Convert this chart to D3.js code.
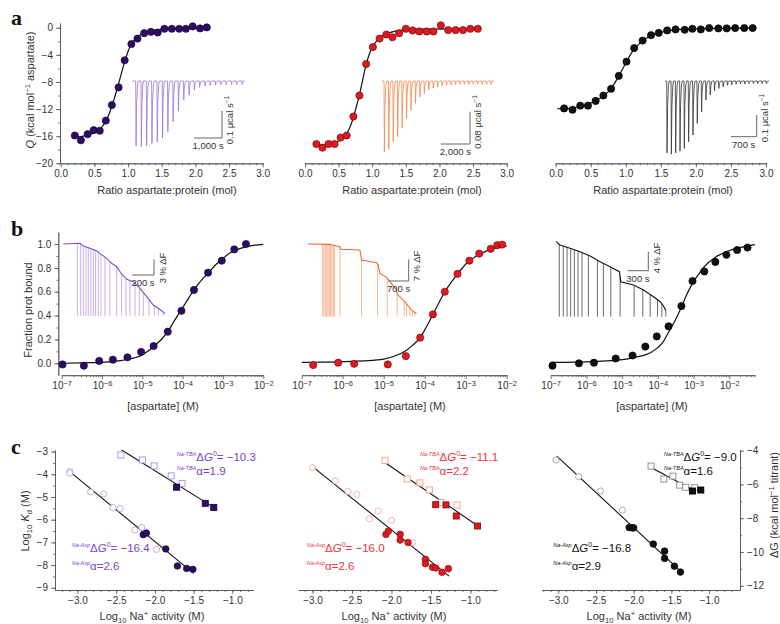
<!DOCTYPE html>
<html><head><meta charset="utf-8">
<script src="https://cdn.jsdelivr.net/npm/d3@7"></script>
<style>body{margin:0;background:#fff;}</style>
</head><body>
<script>
// ================= DATA =================
// Row a: ITC isotherms (molar ratio, Q kcal/mol)
const a1Ratio = [0.21,0.30,0.40,0.49,0.58,0.67,0.76,0.86,0.95,1.05,1.14,1.24,1.34,1.44,1.54,1.65,1.76,1.86,1.96,2.07,2.17];
const a1Q     = [-15.9,-16.6,-15.7,-15.1,-15.2,-13.7,-11.4,-8.8,-4.8,-2.4,-1.6,-0.8,-0.6,-0.7,-0.15,-0.15,-0.15,-0.15,0.2,-0.1,0.05];
const a1FitRatio = [0.2,0.3,0.4,0.5,0.6,0.67,0.72,0.76,0.8,0.85,0.9,0.95,1.0,1.05,1.1,1.2,1.3,1.5,1.8,2.2];
const a1FitQ     = [-16.1,-16.05,-15.85,-15.5,-14.8,-13.8,-12.7,-11.5,-10.3,-8.6,-6.8,-5.0,-3.5,-2.4,-1.7,-0.95,-0.55,-0.22,-0.08,-0.02];
const a1Peaks = [0.243,0.246,0.243,0.234,0.228,0.213,0.19,0.153,0.113,0.071,0.053,0.034,0.024,0.019,0.016,0.015,0.014,0.014,0.013,0.013,0.013];

const a2Ratio = [0.17,0.26,0.35,0.44,0.53,0.62,0.72,0.81,0.91,1.01,1.11,1.21,1.30,1.40,1.50,1.60,1.70,1.81,1.91,2.02,2.13,2.24,2.35,2.46,2.57];
const a2Q     = [-17.15,-17.7,-17.15,-17.15,-16.2,-15.9,-13.1,-10.0,-5.35,-2.85,-1.6,-1.0,-1.4,-0.8,-0.15,-0.4,-0.55,-0.55,-0.55,0.35,-0.35,-0.35,-0.35,-0.15,-0.15];
const a2FitRatio = [0.17,0.25,0.35,0.45,0.55,0.62,0.68,0.72,0.77,0.81,0.86,0.91,0.96,1.01,1.06,1.11,1.2,1.3,1.5,1.8,2.2,2.6];
const a2FitQ     = [-17.1,-17.35,-17.3,-17.0,-16.4,-15.6,-14.4,-13.2,-11.4,-9.9,-7.6,-5.4,-3.8,-2.7,-2.0,-1.5,-0.95,-0.6,-0.3,-0.2,-0.15,-0.12];
const a2Peaks = [0.175,0.169,0.150,0.138,0.116,0.092,0.072,0.055,0.039,0.031,0.022,0.018,0.015,0.012,0.011,0.010,0.009,0.008,0.008,0.008,0.008,0.008,0.008,0.008,0.008];

const a3Ratio = [0.12,0.24,0.35,0.46,0.57,0.68,0.79,0.90,1.01,1.12,1.24,1.36,1.47,1.59,1.71,1.84,1.95,2.07,2.19,2.32,2.44,2.56,2.69,2.81];
const a3Q     = [-11.9,-12.1,-11.5,-11.5,-10.8,-10.0,-9.0,-7.1,-5.0,-3.0,-1.9,-1.1,-0.75,-0.4,-0.25,-0.3,-0.15,-0.25,-0.05,-0.1,-0.1,-0.05,-0.05,-0.05];
const a3FitRatio = [0.02,0.2,0.35,0.5,0.6,0.7,0.79,0.9,1.0,1.1,1.2,1.3,1.4,1.55,1.7,2.0,2.4,2.85];
const a3FitQ     = [-11.95,-11.9,-11.6,-11.1,-10.6,-9.9,-9.0,-7.1,-5.2,-3.4,-2.3,-1.5,-1.0,-0.55,-0.3,-0.15,-0.08,-0.05];
const a3Peaks = [0.331,0.337,0.331,0.323,0.311,0.280,0.249,0.195,0.142,0.088,0.065,0.045,0.034,0.026,0.020,0.017,0.015,0.014,0.014,0.012,0.012,0.012,0.012,0.012];

// Row b: fluorescence titrations (log10 [aspartate] M, fraction bound)
const b1LogC = [-6.98,-6.45,-6.07,-5.73,-5.37,-5.03,-4.72,-4.37,-4.03,-3.72,-3.37,-3.03,-2.72,-2.43];
const b1Frac = [-0.01,-0.02,0.02,0.03,0.05,0.095,0.145,0.265,0.44,0.615,0.76,0.86,0.955,1.0];
const b1FitLogC = [-7,-6.5,-6,-5.5,-5.2,-5,-4.72,-4.5,-4.37,-4.2,-4.03,-3.9,-3.72,-3.5,-3.37,-3.2,-3.03,-2.85,-2.72,-2.5,-2.2,-2];
const b1FitFrac = [0.0,0.004,0.008,0.025,0.045,0.07,0.14,0.21,0.265,0.36,0.45,0.52,0.615,0.71,0.755,0.82,0.87,0.92,0.945,0.97,0.99,0.997];
const b1TraceT = [0,152,182,242,303,333,394,439,485,530,576,636,697,758,818,864,924];
const b1TraceF = [0,0.13,-0.38,-0.83,-1.34,-1.79,-2.74,-3.70,-4.34,-5.74,-6.77,-7.21,-8.49,-10.09,-11.68,-12.32,-13.28];
const b1InjT = [127,158,182,206,227,251,273,294,318,342,379,424,485,530,570,606,652,691,727,779,827,864,909];

const b2LogC = [-6.72,-6.11,-5.72,-4.90,-4.46,-4.11,-3.80,-3.51,-3.20,-2.91,-2.67,-2.39,-2.23,-2.11];
const b2Frac = [-0.015,0.005,-0.005,-0.01,0.06,0.215,0.41,0.60,0.75,0.86,0.92,0.96,0.99,0.995];
const b2FitLogC = [-7,-6.5,-6.11,-5.5,-5,-4.7,-4.46,-4.3,-4.11,-3.95,-3.8,-3.65,-3.51,-3.35,-3.2,-2.91,-2.67,-2.39,-2.11,-2];
const b2FitFrac = [0.008,0.009,0.011,0.02,0.035,0.065,0.106,0.15,0.215,0.31,0.41,0.51,0.60,0.68,0.75,0.86,0.913,0.955,0.978,0.983];
const b2TraceT = [0,746,861,1091,1114,1780,1837,2354,2411,2468,2698,3042,3065,3329,3559,3731];
const b2TraceF = [0,-0.11,-0.43,-0.86,-1.72,-1.94,-5.17,-6.03,-6.78,-9.48,-10.77,-14.86,-16.16,-18.63,-21.33,-22.40];
const b2InjT = [494,539,585,631,677,723,769,815,861,907,1091,1837,2388,2721,3065,3306,3387,3501,3593,3674];

const b3LogC = [-6.95,-6.21,-5.79,-5.18,-4.71,-4.35,-4.03,-3.70,-3.34,-3.03,-2.70,-2.39,-2.08,-1.78,-1.49];
const b3Frac = [-0.02,0.0,0.005,0.04,0.065,0.14,0.225,0.31,0.48,0.69,0.77,0.85,0.91,0.95,0.97];
const b3FitLogC = [-7,-6,-5,-4.5,-4.35,-4.03,-3.85,-3.7,-3.5,-3.34,-3.2,-3.03,-2.85,-2.7,-2.39,-2.08,-1.78,-1.49,-1.28];
const b3FitFrac = [0.008,0.012,0.03,0.06,0.07,0.125,0.18,0.26,0.37,0.47,0.57,0.67,0.75,0.81,0.89,0.935,0.965,0.985,0.995];
const b3TraceT = [0,58,203,348,494,639,784,919,939,1123,1268,1413,1510,1558,1592];
const b3TraceF = [0,-0.70,-1.40,-2.11,-3.02,-4.21,-5.26,-6.32,-8.42,-9.12,-10.18,-11.58,-12.63,-13.54,-14.53];
const b3InjT = [48,106,160,213,266,319,377,469,600,687,794,929,1132,1258,1365,1471,1534,1592];

// Row c: log10 Kd vs log10 Na+ activity
const c1AspOpenX = [-3.10,-3.10,-2.83,-2.66,-2.54,-2.45,-2.26,-2.17,-1.98];
const c1AspOpenY = [-3.88,-3.95,-4.78,-4.87,-5.47,-5.51,-6.46,-6.34,-7.31];
const c1AspFillX = [-2.15,-2.11,-1.86,-1.71,-1.59,-1.51];
const c1AspFillY = [-6.66,-6.59,-7.29,-8.04,-8.15,-8.19];
const c1AspLineX = [-3.10,-1.50], c1AspLineY = [-3.88,-8.37];
const c1TbaOpenX = [-2.44,-2.16,-2.01,-1.79,-1.65];
const c1TbaOpenY = [-3.15,-3.37,-3.63,-4.07,-4.40];
const c1TbaFillX = [-1.72,-1.35,-1.24];
const c1TbaFillY = [-4.57,-5.28,-5.46];
const c1TbaLineX = [-2.43,-1.24], c1TbaLineY = [-2.93,-5.46];

const c2AspOpenX = [-3.00,-2.71,-2.55,-2.44,-2.28,-2.17,-2.00,-1.73];
const c2AspOpenY = [-3.71,-4.29,-4.76,-4.88,-5.96,-5.62,-6.03,-7.01];
const c2AspFillX = [-2.07,-2.04,-1.89,-1.89,-1.79,-1.57,-1.57,-1.48,-1.44,-1.36,-1.28];
const c2AspFillY = [-6.65,-6.50,-6.65,-6.90,-7.01,-7.75,-7.94,-8.10,-8.13,-8.32,-8.16];
const c2AspLineX = [-3.0,-1.27], c2AspLineY = [-3.66,-8.49];
const c2TbaOpenX = [-2.08,-1.80,-1.64,-1.52,-1.37,-1.17];
const c2TbaOpenY = [-3.40,-4.21,-4.38,-4.69,-5.24,-5.35];
const c2TbaFillX = [-1.44,-1.31,-1.18,-0.91];
const c2TbaFillY = [-5.34,-5.35,-5.84,-6.28];
const c2TbaLineX = [-2.08,-0.89], c2TbaLineY = [-3.49,-6.31];

// c3 values in ΔG (kcal/mol titrant), right axis
const c3AspOpenX = [-3.03,-2.73,-2.44,-2.15];
const c3AspOpenY = [-4.55,-5.54,-6.39,-7.52];
const c3AspFillX = [-2.06,-2.02,-2.00,-1.74,-1.59,-1.59,-1.46,-1.38];
const c3AspFillY = [-8.55,-8.57,-8.57,-9.53,-9.95,-10.38,-10.84,-11.19];
const c3AspLineX = [-3.02,-1.35], c3AspLineY = [-4.32,-11.25];
const c3TbaOpenX = [-1.77,-1.60,-1.48,-1.39,-1.31,-1.19];
const c3TbaOpenY = [-4.91,-5.68,-5.51,-6.04,-6.17,-6.19];
const c3TbaFillX = [-1.22,-1.11];
const c3TbaFillY = [-6.39,-6.33];
const c3TbaLineX = [-1.77,-1.21], c3TbaLineY = [-4.99,-6.33];

const annTba = [["\u221210.3","1.9"],["\u221211.1","2.2"],["\u22129.0","1.6"]];
const annAsp = [["\u221216.4","2.6"],["\u221216.0","2.6"],["\u221216.8","2.9"]];

// ================= DRAWING =================
const FONT = "'Liberation Sans', Arial, Helvetica, sans-serif";
const svg = d3.select("body").append("svg").attr("width",780).attr("height",624)
  .style("font-family",FONT);
svg.append("rect").attr("width",780).attr("height",624).attr("fill","#fff");
const AX = "#555";

function axis(gen, tx, ty, values, size, fmt){
  const g = svg.append("g").attr("transform",`translate(${tx},${ty})`)
    .attr("font-family",FONT).attr("font-size",11);
  g.call(gen.tickValues(values).tickSize(size).tickSizeOuter(0).tickPadding(3).tickFormat(fmt));
  g.selectAll("path,line").attr("stroke",AX).attr("stroke-width",0.8);
  g.selectAll("text").attr("fill","#333");
  return g;
}
const zip = (a,b)=>a.map((v,i)=>[v,b[i]]);
function dots(data, xs, ys, r, fill, stroke){
  svg.append("g").selectAll("circle").data(data).join("circle")
    .attr("cx",d=>xs(d[0])).attr("cy",d=>ys(d[1])).attr("r",r)
    .attr("fill",fill).attr("stroke",stroke).attr("stroke-width",0.7);
}
function squares(data, xs, ys, s, fill, stroke){
  svg.append("g").selectAll("rect").data(data).join("rect")
    .attr("x",d=>xs(d[0])-s/2).attr("y",d=>ys(d[1])-s/2).attr("width",s).attr("height",s)
    .attr("fill",fill).attr("stroke",stroke).attr("stroke-width",0.9);
}
function curve(data, xs, ys, w, smooth){
  const l = d3.line().x(d=>xs(d[0])).y(d=>ys(d[1]));
  if (smooth) l.curve(d3.curveMonotoneX);
  svg.append("path").attr("d",l(data)).attr("fill","none").attr("stroke","#111").attr("stroke-width",w);
}
function label(x,y,rot,parts,size){
  const t = svg.append("text").attr("transform",`translate(${x},${y}) rotate(${rot})`)
    .attr("text-anchor","middle").attr("fill","#333").style("font-size",size+"px");
  parts.forEach(p=>{
    const s = t.append("tspan").text(p.t);
    if (p.i) s.style("font-style","italic");
    if (p.sup) s.attr("dy",-size*0.4).style("font-size",(size*0.7)+"px");
    if (p.sub) s.attr("dy",size*0.3).style("font-size",(size*0.7)+"px");
    if (p.back) s.attr("dy",p.back);
  });
  return t;
}
function panelLetter(x,y,txt){
  svg.append("text").attr("x",x).attr("y",y).text(txt)
    .style("font-family","'Liberation Serif','Times New Roman',serif")
    .style("font-weight","bold").style("font-size","22px").attr("fill","#111");
}

// ---------- Row a ----------
const aY = d3.scaleLinear().domain([-20,0.7]).range([163.3,23]);
const aX = [d3.scaleLinear().domain([0,3]).range([60.7,262.7]),
            d3.scaleLinear().domain([0,3]).range([305,506.7]),
            d3.scaleLinear().domain([0,3]).range([555.7,766])];
const aMajor = d3.range(0,3.01,0.5), aMinor = d3.range(0,3.01,0.1);
aX.forEach(xs=>{
  axis(d3.axisBottom(xs), 0, 163.3, aMinor, 2, "");
  axis(d3.axisBottom(xs), 0, 163.3, aMajor, 4, d3.format(".1f"));
});
axis(d3.axisLeft(aY), 60, 0, d3.range(-20,0.1,2), 2, "");
axis(d3.axisLeft(aY), 60, 0, d3.range(-20,0.1,4), 4, d3.format("d"));
label(34,90,-90,[{t:"Q",i:true},{t:" (kcal mol"},{t:"\u22121",sup:true},{t:" aspartate)",back:4.4}],11);
[167,412,663].forEach(cx=>label(cx,194,0,[{t:"Ratio aspartate:protein (mol)"}],11));

function itcInset(depths, xFirst, xLast, xStart, xEnd, y0, pxPerUnit, color){
  const xs = d3.scaleLinear().domain([0, depths.length-1]).range([xFirst, xLast]);
  const ys = d3.scaleLinear().domain([0, 1]).range([y0, y0 + pxPerUnit]);
  const p = d3.path();
  p.moveTo(xStart, y0);
  depths.forEach((d,i)=>{
    const x = xs(i);
    p.lineTo(x, y0); p.lineTo(x+0.35, ys(d)); p.lineTo(x+0.9, ys(d*0.35));
    p.lineTo(x+1.8, ys(d*0.06)); p.lineTo(x+2.6, y0);
  });
  p.lineTo(xEnd, y0);
  svg.append("path").attr("d",p.toString()).attr("fill","none").attr("stroke",color).attr("stroke-width",0.8);
}
itcInset(a1Peaks,135.7,241.7,132.7,243,81,267,"#9b74d8");
itcInset(a2Peaks,384,490.7,381.7,491.7,81,404,"#f5864f");
itcInset(a3Peaks,666.7,766,665.3,769,81,217,"#333");

function scaleBar(cx, cy, lenX, lenY, txtX, txtY, rotX, rotY, size){
  svg.append("path").attr("d",`M${cx-lenX},${cy}H${cx}V${cy-lenY}`)
    .attr("fill","none").attr("stroke",AX).attr("stroke-width",0.9);
  svg.append("text").attr("x",cx-lenX/2).attr("y",cy+size+1.5).attr("text-anchor","middle")
    .attr("fill","#333").style("font-size",size+"px").text(txtX);
  const t = svg.append("text").attr("transform",`translate(${rotX},${rotY}) rotate(-90)`)
    .attr("text-anchor","middle").attr("fill","#333").style("font-size",size+"px");
  return t;
}
function ucal(t, v, size){
  t.append("tspan").text(v+" \u00b5cal s");
  t.append("tspan").text("\u22121").attr("dy",-size*0.4).style("font-size",(size*0.7)+"px");
}
ucal(scaleBar(222,138,27.7,27,"1,000 s",0,233,120,9.5),"0.1",9.5);
ucal(scaleBar(470,144,29.3,32.3,"2,000 s",0,481,122,9.5),"0.08",9.5);
ucal(scaleBar(756.7,136.7,26,21.7,"700 s",0,768,118,9.5),"0.1",9.5);

curve(zip(a1FitRatio,a1FitQ), aX[0], aY, 1.2, true);
curve(zip(a2FitRatio,a2FitQ), aX[1], aY, 1.2, true);
curve(zip(a3FitRatio,a3FitQ), aX[2], aY, 1.2, true);
dots(zip(a1Ratio,a1Q), aX[0], aY, 3.6, "#2e0c62", "#1a0640");
dots(zip(a2Ratio,a2Q), aX[1], aY, 3.6, "#dc1a22", "#7a0a0a");
dots(zip(a3Ratio,a3Q), aX[2], aY, 3.6, "#111", "#000");
panelLetter(11,25,"a");

// ---------- Row b ----------
const bY = d3.scaleLinear().domain([-0.1,1.1]).range([375.2,232.1]);
const bX = [d3.scaleLog().domain([1e-7,1e-2]).range([61.7,263.3]),
            d3.scaleLog().domain([1e-7,1e-2]).range([301.7,506.7]),
            d3.scaleLog().domain([1e-7,Math.pow(10,-1.28)]).range([550.7,755])];
const pow10 = v=>Math.pow(10,v);
bX.forEach(xs=>{
  const [lo,hi] = xs.domain();
  const minor = [], major = [];
  for (let e=-7;e<=-1;e++) for (let m=1;m<=9;m++){
    const v = m*Math.pow(10,e);
    if (v>=lo*0.999 && v<=hi*1.001){ if(m===1) major.push(v); else minor.push(v); }
  }
  axis(d3.axisBottom(xs), 0, 375.2, minor, 2, "");
  const g = axis(d3.axisBottom(xs), 0, 375.2, major, 4, "");
  g.selectAll(".tick text").each(function(d){
    const e = Math.round(Math.log10(d));
    const t = d3.select(this);
    t.append("tspan").text("10");
    t.append("tspan").text("\u2212"+Math.abs(e)).attr("dy","-0.5em").style("font-size","7.5px");
  });
});
axis(d3.axisLeft(bY), 58.3, 0, d3.range(0,1.01,0.1), 2, "");
axis(d3.axisLeft(bY), 58.3, 0, d3.range(0,1.01,0.2), 4, d3.format(".1f"));
label(32,310,-90,[{t:"Fraction prot bound"}],11);
[163,410,652].forEach(cx=>label(cx,410,0,[{t:"[aspartate] (M)"}],11));

function fluorInset(tArr, fArr, injT, fBottom, x0, pxPerS, y0, pxPerPct, traceColor, lineColor){
  const xs = d3.scaleLinear().domain([0,1]).range([x0, x0+pxPerS]);
  const ys = d3.scaleLinear().domain([0,-1]).range([y0, y0+pxPerPct]);
  const trace = d3.scaleLinear().domain(tArr).range(fArr);
  svg.append("g").selectAll("line").data(injT).join("line")
    .attr("x1",t=>xs(t)).attr("x2",t=>xs(t))
    .attr("y1",t=>ys(trace(t))).attr("y2",ys(fBottom))
    .attr("stroke",lineColor).attr("stroke-width",0.8);
  svg.append("path").attr("d",d3.line().x(d=>xs(d[0])).y(d=>ys(d[1]))(zip(tArr,fArr)))
    .attr("fill","none").attr("stroke",traceColor).attr("stroke-width",1.1);
}
fluorInset(b1TraceT,b1TraceF,b1InjT,-13.8,63.3,0.11,244,5.22,"#7b4fc9","#b89ce6");
fluorInset(b2TraceT,b2TraceF,b2InjT,-23.45,308.3,0.029,244,3.1,"#f06a30","#f8a67f");
fluorInset(b3TraceT,b3TraceF,b3InjT,-15.8,556,0.069,241.7,4.75,"#111","#444");

function dF(t, v){
  t.append("tspan").text(v+" % \u0394F");
}
dF(scaleBar(154,275,22,15.7,"200 s",0,166,268,9.5),"3");
dF(scaleBar(408.7,281,20.3,21.7,"700 s",0,420,266,9.5),"7");
dF(scaleBar(648.3,270.7,20.7,19,"300 s",0,660,258,9.5),"4");

curve(zip(b1FitLogC.map(pow10),b1FitFrac), bX[0], bY, 1.2, true);
curve(zip(b2FitLogC.map(pow10),b2FitFrac), bX[1], bY, 1.2, true);
curve(zip(b3FitLogC.map(pow10),b3FitFrac), bX[2], bY, 1.2, true);
dots(zip(b1LogC.map(pow10),b1Frac), bX[0], bY, 3.6, "#2e0c62", "#1a0640");
dots(zip(b2LogC.map(pow10),b2Frac), bX[1], bY, 3.6, "#dc1a22", "#7a0a0a");
dots(zip(b3LogC.map(pow10),b3Frac), bX[2], bY, 3.6, "#111", "#000");
panelLetter(11,236,"b");

// ---------- Row c ----------
const cY = d3.scaleLinear().domain([-9.1,-2.93]).range([590,450]);
const c3Y = d3.scaleLinear().domain([-12.25,-3.96]).range([590,450]);
const cX = [d3.scaleLinear().domain([-3.29,-0.73]).range([55,253.3]),
            d3.scaleLinear().domain([-3.18,-0.66]).range([298.3,497.3]),
            d3.scaleLinear().domain([-3.22,-0.59]).range([541.7,740])];
const cMajor = d3.range(-3,-0.99,0.5);
cX.forEach(xs=>{
  const [lo,hi] = xs.domain();
  const minor = d3.range(-3.2,-0.6,0.1).filter(v=>v>=lo && v<=hi);
  axis(d3.axisBottom(xs), 0, 590, minor, 2, "");
  axis(d3.axisBottom(xs), 0, 590, cMajor, 4, d3.format(".1f"));
});
axis(d3.axisLeft(cY), 55, 0, d3.range(-9,-2.99,0.5), 2, "");
axis(d3.axisLeft(cY), 55, 0, d3.range(-9,-2.99,1), 4, d3.format("d"));
axis(d3.axisRight(c3Y), 740, 0, d3.range(-12,-3.99,1), 2, "");
axis(d3.axisRight(c3Y), 740, 0, d3.range(-12,-3.99,2), 4, d3.format("d"));
label(29,521,-90,[{t:"Log"},{t:"10",sub:true},{t:" ",back:-3.3},{t:"K",i:true},{t:"d",sub:true},{t:" (M)",back:-3.3}],11);
label(778,505,-90,[{t:"\u0394G (kcal mol"},{t:"\u22121",sup:true},{t:" titrant)",back:4.4}],11);
[152,394,639].forEach(cx=>label(cx,620,0,[{t:"Log"},{t:"10",sub:true},{t:" Na",back:-3.3},{t:"+",sup:true},{t:" activity (M)",back:4.4}],11));

const cPanels = [
  {xs:cX[0], ys:cY, open:"#a58fdc", fill:"#2e0c62", fstroke:"#1a0640",
   ao:[c1AspOpenX,c1AspOpenY], af:[c1AspFillX,c1AspFillY], al:[c1AspLineX,c1AspLineY],
   to:[c1TbaOpenX,c1TbaOpenY], tf:[c1TbaFillX,c1TbaFillY], tl:[c1TbaLineX,c1TbaLineY]},
  {xs:cX[1], ys:cY, open:"#f49a88", fill:"#dc1a22", fstroke:"#8a1010",
   ao:[c2AspOpenX,c2AspOpenY], af:[c2AspFillX,c2AspFillY], al:[c2AspLineX,c2AspLineY],
   to:[c2TbaOpenX,c2TbaOpenY], tf:[c2TbaFillX,c2TbaFillY], tl:[c2TbaLineX,c2TbaLineY]},
  {xs:cX[2], ys:c3Y, open:"#8a8a8a", fill:"#111", fstroke:"#000",
   ao:[c3AspOpenX,c3AspOpenY], af:[c3AspFillX,c3AspFillY], al:[c3AspLineX,c3AspLineY],
   to:[c3TbaOpenX,c3TbaOpenY], tf:[c3TbaFillX,c3TbaFillY], tl:[c3TbaLineX,c3TbaLineY]}
];
cPanels.forEach(p=>{
  curve(zip(...p.al), p.xs, p.ys, 1.1, false);
  curve(zip(...p.tl), p.xs, p.ys, 1.1, false);
  dots(zip(...p.ao), p.xs, p.ys, 3.1, "#fff", p.open);
  squares(zip(...p.to), p.xs, p.ys, 6, "#fff", p.open);
  dots(zip(...p.af), p.xs, p.ys, 3.3, p.fill, p.fstroke);
  squares(zip(...p.tf), p.xs, p.ys, 6, p.fill, p.fstroke);
});

const annColor = ["#7a44cc","#f2323c","#111"];
const annTbaX = [176.7,420,664], annAspX = [71.7,306.7,553.3];
function annot(x, y, sup, parts, color){
  const t = svg.append("text").attr("x",x).attr("y",y).attr("fill",color).style("font-size","11.5px");
  t.append("tspan").text(sup).style("font-size","5.5px").style("font-style","italic").attr("dy",-5);
  parts.forEach((p,i)=>{
    const s = t.append("tspan").text(p.t);
    if (i===0) s.attr("dy",5);
    if (p.i) s.style("font-style","italic");
    if (p.sup) s.attr("dy",-5).style("font-size","7px");
    if (p.back) s.attr("dy",5);
  });
}
[0,1,2].forEach(k=>{
  annot(annTbaX[k],461,"Na-TBA",[{t:"\u0394"},{t:"G",i:true},{t:"0",sup:true},{t:"= "+annTba[k][0],back:true}],annColor[k]);
  annot(annTbaX[k],475,"Na-TBA",[{t:"\u03b1="+annTba[k][1]}],annColor[k]);
  annot(annAspX[k],552,"Na-Asp",[{t:"\u0394"},{t:"G",i:true},{t:"0",sup:true},{t:"= "+annAsp[k][0],back:true}],annColor[k]);
  annot(annAspX[k],570,"Na-Asp",[{t:"\u03b1="+annAsp[k][1]}],annColor[k]);
});
panelLetter(11,454,"c");
</script>
</body></html>
